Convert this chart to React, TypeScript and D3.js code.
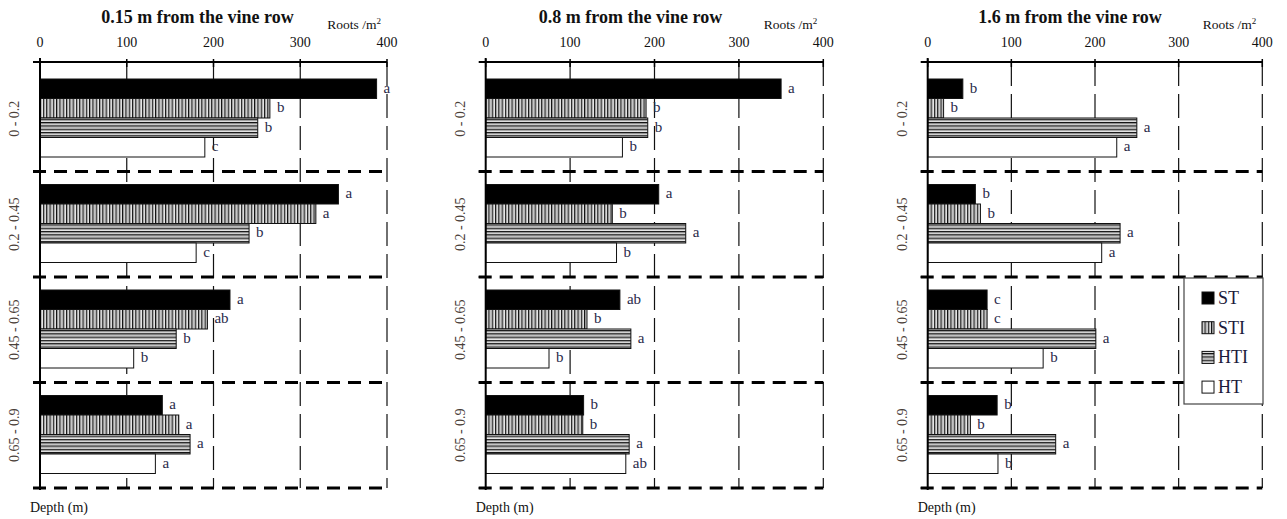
import React from "react";
import * as d3 from "d3";

const depths = ["0 - 0.2", "0.2 - 0.45", "0.45 - 0.65", "0.65 - 0.9"];
const series = ["ST", "STI", "HTI", "HT"];
const xTicks = [0, 100, 200, 300, 400];

const titles = ["0.15 m from the vine row", "0.8 m from the vine row", "1.6 m from the vine row"];

// values[depth][series]
const values015 = [
  [388, 265, 251, 190],
  [344, 318, 241, 180],
  [219, 193, 157, 108],
  [141, 160, 173, 133],
];
const values08 = [
  [350, 190, 192, 162],
  [205, 150, 237, 155],
  [159, 120, 172, 75],
  [116, 115, 170, 166],
];
const values16 = [
  [42, 19, 250, 226],
  [57, 63, 230, 208],
  [71, 71, 201, 138],
  [83, 51, 153, 84],
];
const letters015 = [
  ["a", "b", "b", "c"],
  ["a", "a", "b", "c"],
  ["a", "ab", "b", "b"],
  ["a", "a", "a", "a"],
];
const letters08 = [
  ["a", "b", "b", "b"],
  ["a", "b", "a", "b"],
  ["ab", "b", "a", "b"],
  ["b", "b", "a", "ab"],
];
const letters16 = [
  ["b", "b", "a", "a"],
  ["b", "b", "a", "a"],
  ["c", "c", "a", "b"],
  ["b", "b", "a", "b"],
];

const panelValues = [values015, values08, values16];
const panelLetters = [letters015, letters08, letters16];
const panelRanges: [number, number][] = [
  [40, 387],
  [485.7, 823.3],
  [927.7, 1262.3],
];
const titleShift = [-16, -24, -25];

const FONT = "Liberation Serif";
const AXIS_Y = 62;
const BAND_TOP = 66;
const BAND_BOTTOM = 488;

const fills: Record<string, string> = {
  ST: "#000",
  STI: "url(#pSTI)",
  HTI: "url(#pHTI)",
  HT: "#fff",
};

function Panel({ idx }: { idx: number }) {
  const [r0, r1] = panelRanges[idx];
  const x = d3.scaleLinear().domain([0, 400]).range([r0, r1]);
  const y = d3.scaleBand().domain(depths).range([BAND_TOP, BAND_BOTTOM]).paddingInner(0).paddingOuter(0);
  const bw = y.bandwidth();
  const inner = d3.scaleBand().domain(series).range([13, 13 + 78]).padding(0);
  const vals = panelValues[idx];
  const lets = panelLetters[idx];
  const titleX = (x(0) + x(400)) / 2 + titleShift[idx];
  return (
    <g>
      <text x={titleX} y={23} textAnchor="middle" fontFamily={FONT} fontWeight="bold" fontSize={18} fill="#111">
        {titles[idx]}
      </text>
      <text x={x(400) - 6} y={29} textAnchor="end" fontFamily={FONT} fontSize={13.5} fill="#111">
        Roots /m<tspan fontSize={9} dy={-5}>2</tspan>
      </text>
      {xTicks.map((t) => (
        <text key={t} x={x(t)} y={47} textAnchor="middle" fontFamily={FONT} fontSize={14} fill="#111">
          {t}
        </text>
      ))}
      {/* gridlines */}
      {xTicks.slice(1).map((t) => (
        <line key={"g" + t} x1={x(t)} x2={x(t)} y1={AXIS_Y} y2={BAND_BOTTOM} stroke="#111" strokeWidth={1.2} strokeDasharray="24,8" />
      ))}
      {/* bars */}
      {depths.map((dp, di) =>
        series.map((s, si) => {
          const by = (y(dp) as number) + (inner(s) as number);
          const bh = inner.bandwidth();
          const v = vals[di][si];
          return (
            <g key={dp + s}>
              <rect x={x(0)} y={by} width={x(v) - x(0)} height={bh} fill={fills[s]} stroke="#111" strokeWidth={1} />
              <text x={x(v) + 7} y={by + bh / 2 + 4} fontFamily={FONT} fontSize={15} fill="#2a2a4a">
                {lets[di][si]}
              </text>
            </g>
          );
        })
      )}
      {/* separators */}
      {depths.map((dp) => {
        const yy = (y(dp) as number) + bw;
        return (
          <g key={"s" + dp}>
            <line x1={x(0) - 7} x2={x(400)} y1={yy} y2={yy} stroke="#000" strokeWidth={3} strokeDasharray="13,8" />
            <line x1={x(0) - 7} x2={x(0)} y1={yy} y2={yy} stroke="#000" strokeWidth={2} />
          </g>
        );
      })}
      {/* top axis */}
      <line x1={x(0) - 7} x2={x(400)} y1={AXIS_Y} y2={AXIS_Y} stroke="#000" strokeWidth={2} />
      {xTicks.map((t) => (
        <line key={"t" + t} x1={x(t)} x2={x(t)} y1={AXIS_Y - 3} y2={AXIS_Y + 5} stroke="#000" strokeWidth={1.5} />
      ))}
      {/* left axis */}
      <line x1={x(0)} x2={x(0)} y1={AXIS_Y - 4} y2={BAND_BOTTOM + 2} stroke="#000" strokeWidth={2} />
      {depths.map((dp) => {
        const cy = (y(dp) as number) + bw / 2;
        const lx = x(0) - 21;
        return (
          <text key={"l" + dp} x={lx} y={cy} transform={`rotate(-90 ${lx} ${cy})`} textAnchor="middle" fontFamily={FONT} fontSize={14} fill="#4a4038">
            {dp}
          </text>
        );
      })}
      <text x={x(0) - 10} y={512} fontFamily={FONT} fontSize={14} fill="#111">
        Depth (m)
      </text>
    </g>
  );
}

function Legend() {
  const lx = 1184;
  const ly = 278;
  const items = series.map((s, i) => ({ s, cy: 298 + i * 29.7 }));
  return (
    <g>
      <rect x={lx} y={ly} width={79} height={126} fill="#fff" stroke="#444" strokeWidth={1.2} />
      {items.map(({ s, cy }) => (
        <g key={s}>
          <rect x={1202} y={cy - 6} width={12} height={12} fill={fills[s]} stroke="#111" strokeWidth={1} />
          <text x={1218} y={cy + 6} fontFamily={FONT} fontSize={18} fill="#1a1a3a">
            {s}
          </text>
        </g>
      ))}
    </g>
  );
}

export default function App() {
  return (
    <svg width={1287} height={519} style={{ position: "absolute", left: 0, top: 0, background: "#fff" }}>
      <defs>
        <pattern id="pSTI" patternUnits="userSpaceOnUse" width={3.3} height={10}>
          <rect width={3.3} height={10} fill="#e8e8e8" />
          <rect x={0} width={1.1} height={10} fill="#111" />
          <rect x={1.1} width={0.9} height={10} fill="#888" />
        </pattern>
        <pattern id="pHTI" patternUnits="userSpaceOnUse" width={10} height={3.3}>
          <rect width={10} height={3.3} fill="#e8e8e8" />
          <rect y={0} width={10} height={1.1} fill="#111" />
          <rect y={1.1} width={10} height={0.9} fill="#777" />
        </pattern>
      </defs>
      {[0, 1, 2].map((i) => (
        <Panel key={i} idx={i} />
      ))}
      <Legend />
    </svg>
  );
}
